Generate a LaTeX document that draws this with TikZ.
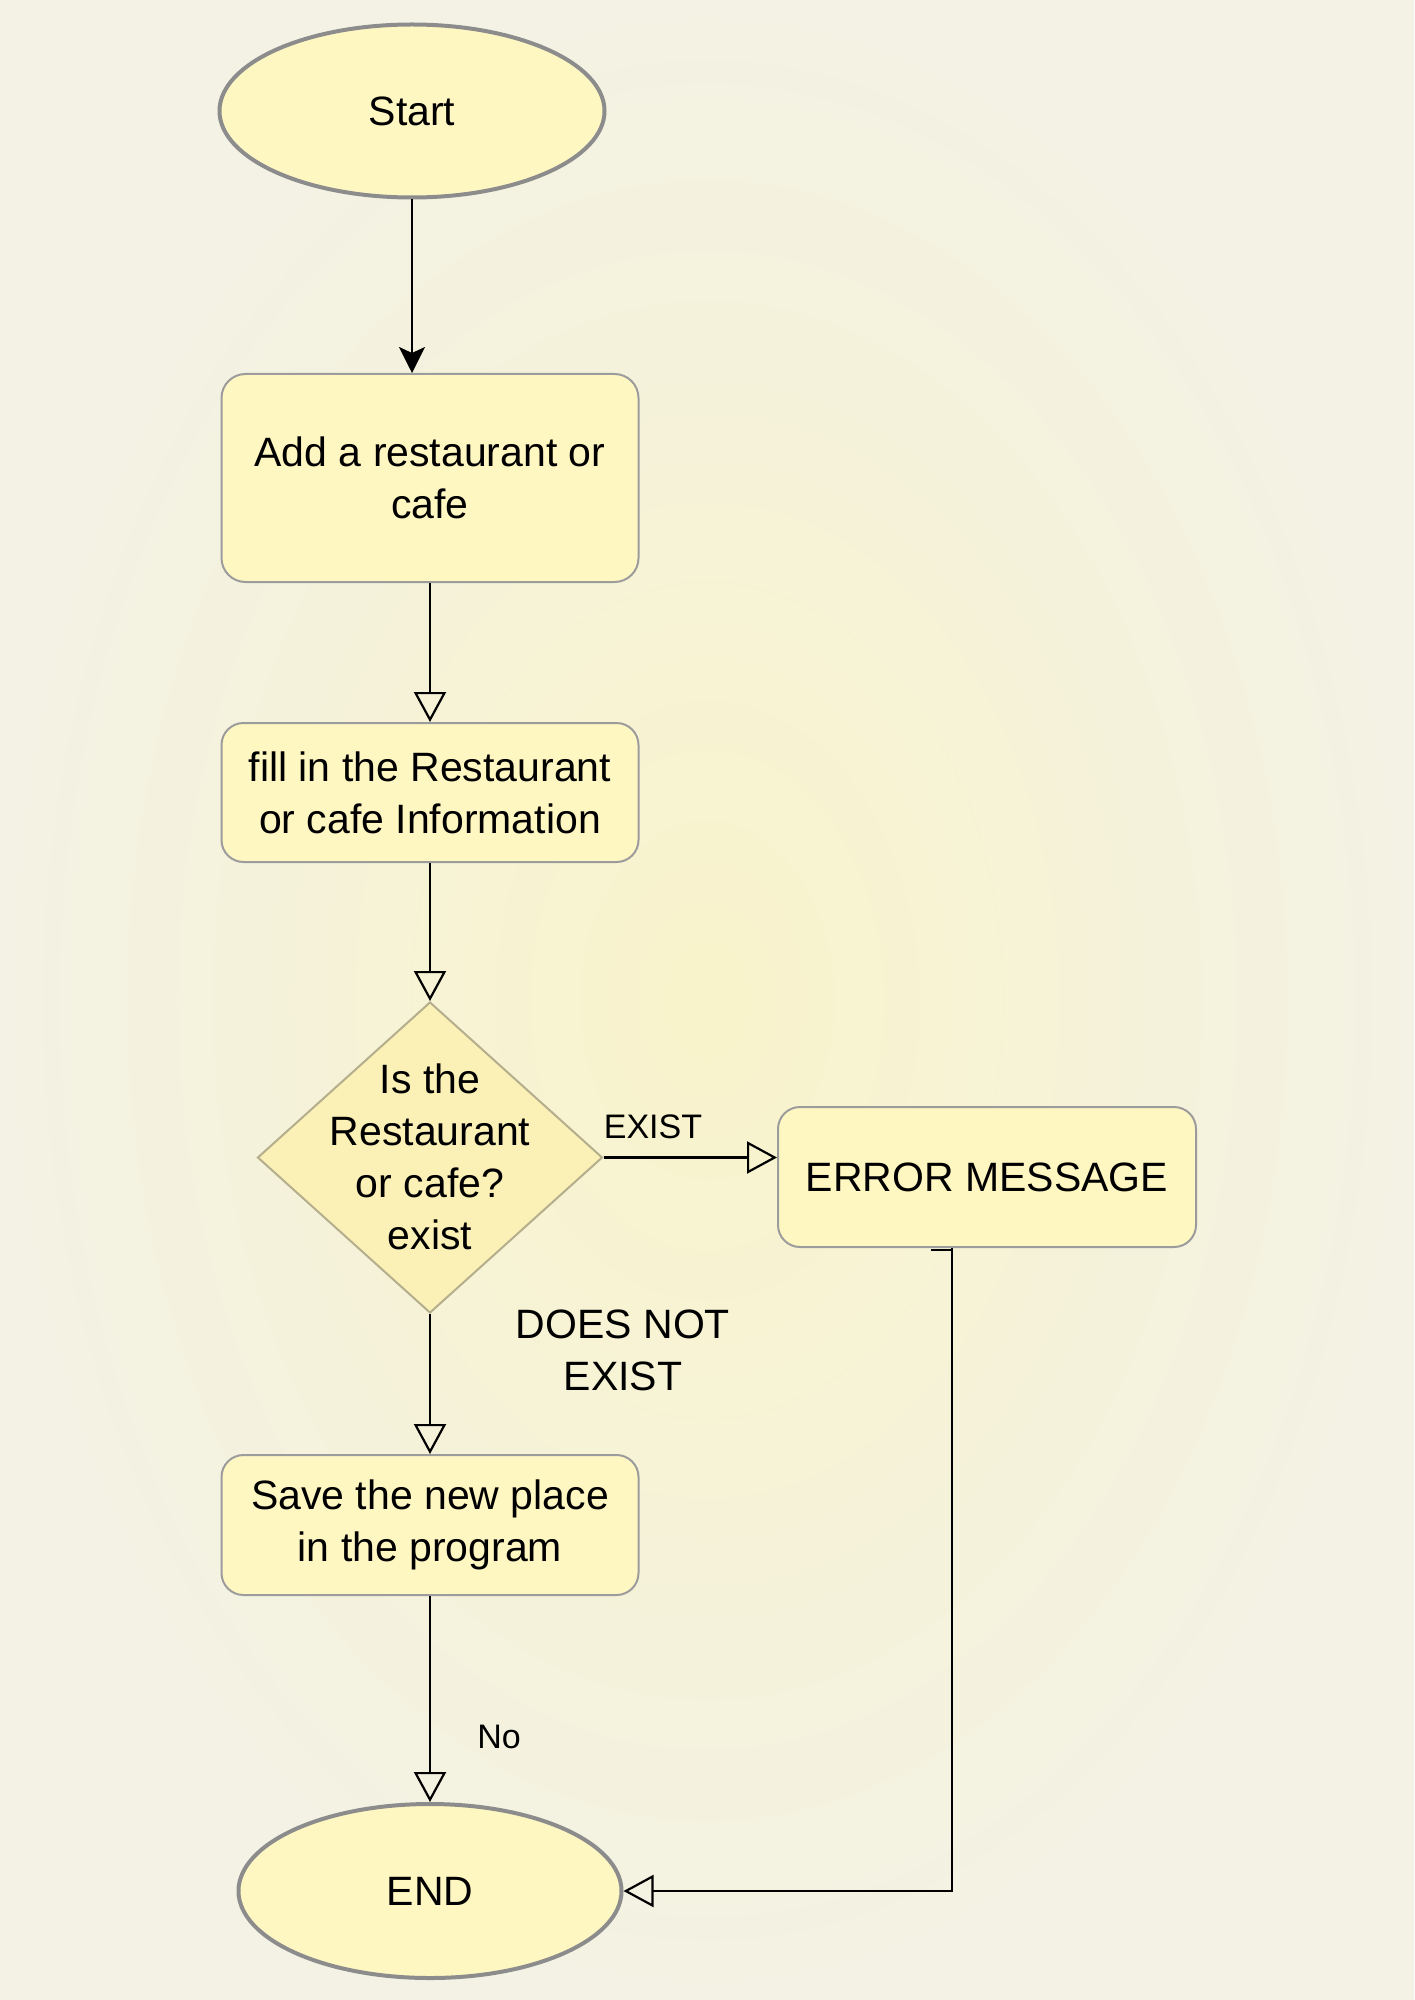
\documentclass[tikz,border=0pt]{standalone}
\usepackage{fontspec}
\setmainfont{Liberation Sans}
\usetikzlibrary{shapes.geometric,arrows.meta}
\definecolor{bgout}{HTML}{F3F2E4}
\definecolor{bgin}{HTML}{F9F3CB}
\definecolor{boxfill}{HTML}{FFF7C2}
\definecolor{decfill}{HTML}{FBF0B6}
\definecolor{termline}{HTML}{8C8C8C}
\definecolor{boxline}{HTML}{9C9C9C}
\definecolor{decline}{HTML}{B5AE8C}
\tikzset{
  mainfont/.style={font=\fontsize{20.5}{26}\selectfont},
  term/.style={ellipse, draw=termline, line width=2pt, fill=boxfill, inner sep=0pt, mainfont},
  procbox/.style={rectangle, rounded corners=11pt, draw=boxline, line width=1pt, fill=boxfill, align=center, inner sep=0pt, mainfont},
  decis/.style={diamond, draw=decline, line width=1pt, fill=decfill, inner sep=0pt},
  conn/.style={draw=black, line width=1.1pt},
  openarrow/.style={conn, -{Triangle[open, length=15pt, width=16pt]}},
  filledarrow/.style={conn, -{Stealth[length=13pt, width=13pt, inset=3pt]}},
  smalllabel/.style={font=\fontsize{17}{21}\selectfont, inner sep=0pt},
  biglabel/.style={mainfont, inner sep=0pt, align=center}
}
\begin{document}
\begin{tikzpicture}[x=0.5pt,y=-0.5pt]
\shade[inner color=bgin, outer color=bgout] (0,0) rectangle (1414,2000);
\useasboundingbox (0,0) rectangle (1414,2000);

\node[term, minimum width=192.5pt, minimum height=86.5pt] (start) at (412,111) {Start};
\node[procbox, minimum width=208.5pt, minimum height=104pt, rounded corners=12pt] (add) at (430,478) {Add a restaurant or\\cafe};
\node[procbox, minimum width=208.5pt, minimum height=69.5pt] (fill) at (430,792.5) {fill in the Restaurant\\or cafe Information};
\node[decis, minimum width=172.5pt, minimum height=155.5pt] (dec) at (430,1157.5) {};
\node[biglabel] (dectext) at (430,1157) {Is the\\Restaurant\\or cafe?\\exist};
\node[procbox, minimum width=209pt, minimum height=70pt] (err) at (987,1177) {ERROR MESSAGE};
\node[procbox, minimum width=208.5pt, minimum height=70pt] (save) at (430,1525) {Save the new place\\in the program};
\node[term, minimum width=191.5pt, minimum height=87pt] (end) at (430,1891) {END};

\draw[filledarrow] (start.south) -- (start.south |- add.north);
\draw[openarrow] (add.south) -- (fill.north);
\draw[openarrow] (fill.south) -- (dec.north);
\draw[openarrow] (dec.east) -- (err.west |- dec.east);
\draw[openarrow] (dec.south) -- (save.north);
\draw[openarrow] (save.south) -- (end.north);
\draw[conn, line width=1.3pt] ([xshift=-28pt,yshift=-1pt]err.south) -- ([xshift=-17.5pt,yshift=-1pt]err.south);
\draw[openarrow] ([xshift=-17.5pt]err.south) -- ([xshift=-17.5pt]err.south |- end.east) -- (end.east);

\node[smalllabel] (lexist) at (653,1127) {EXIST};
\node[biglabel] (lnot) at (623,1350) {DOES NOT\\EXIST};
\node[smalllabel] (lno) at (499,1737) {No};
\end{tikzpicture}
\end{document}
